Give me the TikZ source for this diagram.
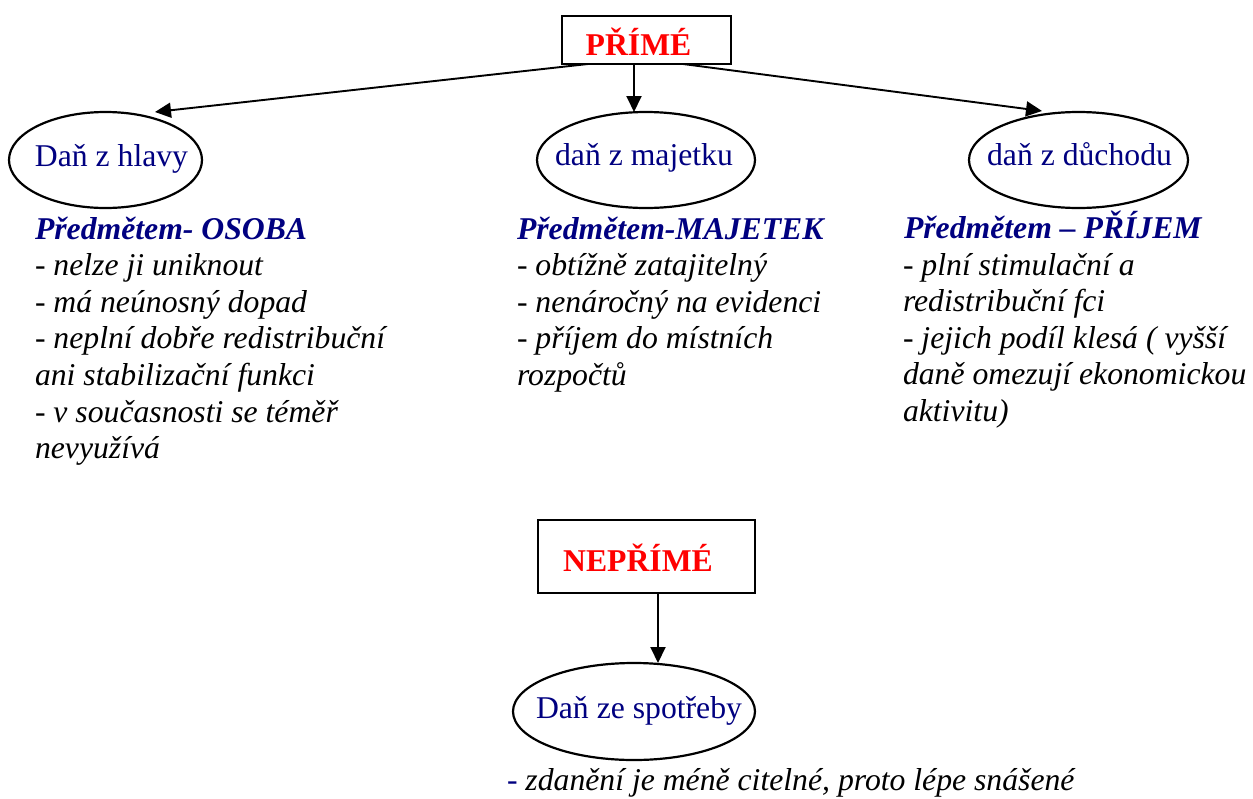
\documentclass[tikz,border=0pt]{standalone}
\usepackage{fontspec}
\setmainfont{Liberation Serif}[BoldFont={Liberation Serif Bold}, ItalicFont={Liberation Serif Italic}, BoldItalicFont={Liberation Serif Bold Italic}]
\usetikzlibrary{shapes.geometric,arrows.meta}
\definecolor{navy}{RGB}{0,0,128}
\definecolor{pred}{RGB}{255,0,0}
\begin{document}
\begin{tikzpicture}[x=1pt,y=-1pt,
  every node/.style={inner sep=0pt, outer sep=0pt},
  txt/.style={font=\fontsize{31.7}{36.6}\selectfont},
  box/.style={draw, line width=2.2pt, rectangle},
  oval/.style={draw, line width=2.2pt, ellipse},
  head/.style={txt, text=pred, font=\fontsize{31.7}{36.6}\selectfont\bfseries},
  ovtxt/.style={txt, text=navy, anchor=base},
  ttl/.style={anchor=base west, text=navy, font=\fontsize{31.7}{36.6}\selectfont\bfseries\itshape},
  ln/.style={anchor=base west, font=\fontsize{31.7}{36.6}\selectfont\itshape},
  arr/.style={line width=1.9pt, -{Triangle[length=16pt,width=15pt]}}
]
\useasboundingbox (0,0) rectangle (1253,798);

% top box
\node[box, minimum width=169pt, minimum height=48pt] (p) at (646.5,40) {};
\node[head, anchor=base] (ptxt) at (638.5,55) {PŘÍMÉ};

% ellipses
\node[oval, minimum width=193pt, minimum height=96pt] (e1) at (105.5,160) {};
\node[ovtxt] (e1t) at (111.5,166) {Daň z hlavy};
\node[oval, minimum width=218pt, minimum height=96pt] (e2) at (646,160) {};
\node[ovtxt] (e2t) at (644,165) {daň z majetku};
\node[oval, minimum width=219pt, minimum height=96pt] (e3) at (1078.5,160) {};
\node[ovtxt] (e3t) at (1079.5,165) {daň z důchodu};

% arrows
\draw[arr] ([xshift=-58.5pt]p.south) -- ([xshift=49.5pt]e1.north);
\draw[arr] ([xshift=-12.5pt]p.south) -- ([xshift=-12pt]e2.north);
\draw[arr] ([xshift=36.5pt]p.south) -- ([xshift=-36.5pt,yshift=1pt]e3.north);

% column 1
\node[ttl] (c1t) at (35,239) {Předmětem- OSOBA};
\foreach \t [count=\i] in {{- nelze ji uniknout},{- má neúnosný dopad},{- neplní dobře redistribuční},{ani stabilizační funkci},{- v současnosti se téměř},{nevyužívá}}
  \node[ln] (c1l\i) at (35,239+36.6*\i) {\t};

% column 2
\node[ttl] (c2t) at (517,239) {Předmětem-MAJETEK};
\foreach \t [count=\i] in {{- obtížně zatajitelný},{- nenáročný na evidenci},{- příjem do místních},{rozpočtů}}
  \node[ln] (c2l\i) at (517,239+36.6*\i) {\t};

% column 3
\node[ttl] (c3t) at (904,238.5) {Předmětem – PŘÍJEM};
\foreach \t [count=\i] in {{- plní stimulační a},{redistribuční fci},{- jejich podíl klesá ( vyšší},{daně omezují ekonomickou},{aktivitu)}}
  \node[ln] (c3l\i) at (903,238.5+36.6*\i) {\t};

% bottom
\node[box, minimum width=217pt, minimum height=73pt] (n) at (646.5,556.5) {};
\node[head, anchor=base] (ntxt) at (638,571) {NEPŘÍMÉ};
\node[oval, minimum width=242pt, minimum height=97pt] (e4) at (634,711.5) {};
\node[ovtxt] (e4t) at (639,718) {Daň ze spotřeby};
\draw[arr] ([xshift=11.5pt]n.south) -- ([xshift=24pt]e4.north);

\node[ln] (b1) at (507,790) {\textcolor{navy}{-} zdanění je méně citelné, proto lépe snášené};
\end{tikzpicture}
\end{document}
